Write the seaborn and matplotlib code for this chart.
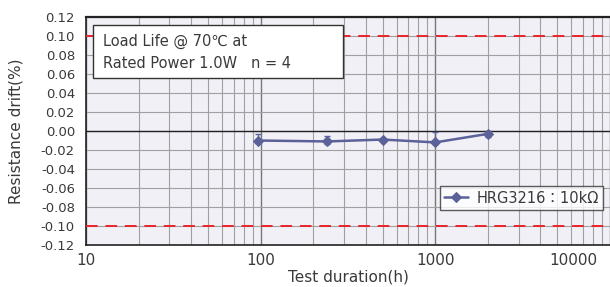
import numpy as np
import matplotlib
matplotlib.use("Agg")
import matplotlib.pyplot as plt
import matplotlib.transforms as mtransforms
from matplotlib.patches import Rectangle
from matplotlib.ticker import LogLocator, NullFormatter, FixedLocator
import seaborn as sns

# data
hours = [96, 240, 500, 1000, 2000]
drift = [-0.010, -0.011, -0.009, -0.012, -0.003]
err_low = [0.003, 0.003, 0.002, 0.002, 0.003]
err_high = [0.007, 0.006, 0.002, 0.011, 0.003]
limits = [0.10, -0.10]
yticks = [-0.12, -0.10, -0.08, -0.06, -0.04, -0.02, 0.00,
          0.02, 0.04, 0.06, 0.08, 0.10, 0.12]
xticks = [10, 100, 1000, 10000]
series_label = "HRG3216：10kΩ"
note_lines = ["Load Life @ 70℃ at", "Rated Power 1.0W   n = 4"]

sns.set_theme(style="white")
fams = ['DejaVu Sans', 'Noto Sans CJK JP']
plt.rcParams['font.family'] = fams

line_col = "#5b6199"
text_col = "#3a3a3a"

fig = plt.figure(figsize=(6.10, 2.87), dpi=100)
ax = fig.add_axes([86 / 610, 1 - 245 / 287, 524 / 610, 228 / 287])
ax.set_facecolor("#f2f0f7")

sns.lineplot(x=hours, y=drift, ax=ax, color=line_col, marker="D",
             markersize=5, linewidth=1.8, markeredgecolor=line_col,
             label=series_label, zorder=5)
ax.errorbar(hours, drift, yerr=[err_low, err_high], fmt="none",
            ecolor=line_col, elinewidth=1, capsize=2.5, zorder=4)

ax.set_xscale("log")
ax.set_xlim(10, 10000)
ax.set_ylim(-0.12, 0.12)
ax.xaxis.set_major_locator(FixedLocator(xticks))
ax.set_xticklabels([str(t) for t in xticks])
ax.xaxis.set_minor_locator(LogLocator(base=10, subs=np.arange(2, 10)))
ax.xaxis.set_minor_formatter(NullFormatter())
ax.set_yticks(yticks)
ax.set_yticklabels([f"{t:.2f}" for t in yticks])

ax.grid(which="major", axis="x", color="#777777", linewidth=1.0)
ax.grid(which="minor", axis="x", color="#a0a0a0", linewidth=0.8)
ax.grid(which="major", axis="y", color="#a0a0a0", linewidth=0.8)
ax.set_axisbelow(True)

ax.axhline(0, color="#222222", linewidth=1.0, zorder=2)
for lim in limits:
    ax.axhline(lim, color="#e8242a", linewidth=1.4, dashes=(6, 4), zorder=3)

ax.spines["right"].set_visible(False)
for side, lw in [("top", 1.6), ("left", 1.2), ("bottom", 1.2)]:
    ax.spines[side].set_color("#222222")
    ax.spines[side].set_linewidth(lw)

ax.tick_params(axis="y", labelsize=9.5, colors=text_col, length=0, pad=8)
ax.tick_params(axis="x", which="both", labelsize=11, colors=text_col,
               length=0, pad=6)
labels = ax.get_xticklabels()
offset = mtransforms.ScaledTranslation(-0.37, 0, fig.dpi_scale_trans)
labels[-1].set_transform(labels[-1].get_transform() + offset)

ax.set_xlabel("Test duration(h)", fontsize=11, color=text_col, labelpad=1)
ax.set_ylabel("Resistance drift(%)", fontsize=11, color=text_col, labelpad=12)

# note box
ax.add_patch(Rectangle((0.0134, 0.732), 0.477, 0.233, transform=ax.transAxes,
                       facecolor="white", edgecolor="#333333", linewidth=1.0,
                       zorder=6))
for yy, line in zip([0.895, 0.795], note_lines):
    ax.text(0.032, yy, line, transform=ax.transAxes, fontsize=10.5,
            color=text_col, va="center", ha="left", family=fams, zorder=7)

leg = ax.legend(loc="lower right", bbox_to_anchor=(0.987, 0.154),
                borderaxespad=0, fontsize=10.5, frameon=True, fancybox=False,
                handlelength=1.6, handletextpad=0.6, borderpad=0.3)
leg.get_frame().set_edgecolor("#333333")
leg.get_frame().set_linewidth(1.0)
for t in leg.get_texts():
    t.set_color(text_col)
    t.set_family(fams)

fig.savefig("out.png", dpi=100)
